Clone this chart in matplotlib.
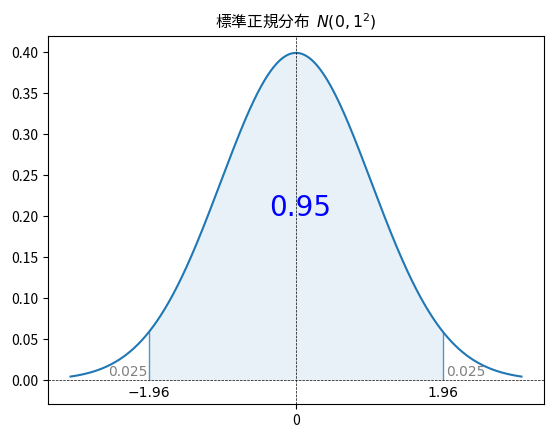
import numpy as np
import matplotlib
matplotlib.use("Agg")
import matplotlib.pyplot as plt

plt.rcParams['font.family'] = ['Noto Sans CJK JP', 'DejaVu Sans']
plt.rcParams['axes.unicode_minus'] = True

x_min, x_max = -3.0, 3.0
z_crit = 1.96
center_label = "0.95"
tail_label = "0.025"
title = "標準正規分布  $N(0, 1^2)$"
xticks = [0]

x = np.linspace(x_min, x_max, 601)
pdf = np.exp(-x**2 / 2) / np.sqrt(2 * np.pi)

fig = plt.figure(figsize=(5.53, 4.37), dpi=100)
ax = fig.add_axes([48/553, 1 - 404/437, (544-48)/553, (404-36)/437])

ax.plot(x, pdf, color='tab:blue', lw=1.5)
mask = (x >= -z_crit) & (x <= z_crit)
ax.fill_between(x[mask], pdf[mask], 0, color='tab:blue', alpha=0.1, lw=0)
pz = np.exp(-z_crit**2 / 2) / np.sqrt(2 * np.pi)
ax.vlines([-z_crit, z_crit], 0, pz, color='tab:blue', lw=1.0, alpha=0.75)
ax.axhline(0, color='black', ls='--', lw=0.5)
ax.axvline(0, color='black', ls='--', lw=0.5)

ax.text(0.05, 0.21, center_label, color='blue', fontsize=20, ha='center', va='center', family='DejaVu Sans')
ax.text(-z_crit - 0.02, 0.001, tail_label, color='gray', fontsize=10, ha='right', va='bottom', family='DejaVu Sans')
ax.text(z_crit + 0.04, 0.001, tail_label, color='gray', fontsize=10, ha='left', va='bottom', family='DejaVu Sans')
ax.text(-z_crit, -0.015, "\u22121.96", fontsize=10, ha='center', va='center', family='DejaVu Sans')
ax.text(z_crit, -0.015, "1.96", fontsize=10, ha='center', va='center', family='DejaVu Sans')

ax.set_xticks(xticks)
ax.set_xlim(-3.3, 3.3)
ax.set_ylim(-0.029, 0.4195)
ax.set_yticks(np.arange(0, 0.41, 0.05))
ax.set_title(title, fontsize=11.3)

fig.savefig("out.png", dpi=100)
